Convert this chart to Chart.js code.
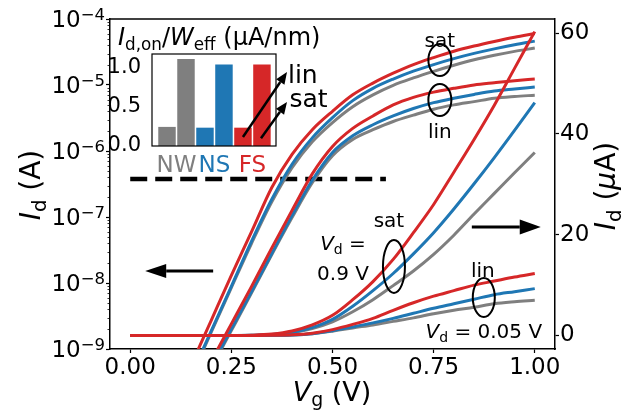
<!DOCTYPE html>
<html>
<head>
<meta charset="utf-8">
<script src="https://cdn.jsdelivr.net/npm/chart.js@4.4.1/dist/chart.umd.min.js"></script>
<style>
  html, body { margin: 0; padding: 0; background: #fff; }
  #wrap { position: relative; width: 634px; height: 410px; }
  #main { position: absolute; left: 0; top: 0; }
  #inset { position: absolute; left: 100px; top: 20px; }
</style>
</head>
<body>
<div id="wrap">
  <canvas id="main" width="634" height="410"></canvas>
  <canvas id="inset" width="240" height="160"></canvas>
</div>
<script>
// gate voltage (V)
const vg = [0.00, 0.05, 0.10, 0.15, 0.20, 0.25, 0.30, 0.35, 0.40, 0.45, 0.50,
            0.55, 0.60, 0.65, 0.70, 0.75, 0.80, 0.85, 0.90, 0.95, 1.00];

// drain current (A), Vd = 0.9 V (sat)
const idSatGray = [3.0e-12, 1.5e-11, 7.6e-11, 3.7e-10, 1.78e-9, 8.5e-9, 4.0e-8, 1.7e-7, 5.6e-7, 1.38e-6, 2.7e-6,
                   4.7e-6, 7.1e-6, 9.9e-6, 1.28e-5, 1.61e-5, 1.99e-5, 2.41e-5, 2.82e-5, 3.23e-5, 3.63e-5];
const idSatBlue = [3.2e-12, 1.6e-11, 7.9e-11, 3.9e-10, 1.86e-9, 8.9e-9, 4.3e-8, 1.86e-7, 6.3e-7, 1.58e-6, 3.2e-6,
                   5.8e-6, 8.9e-6, 1.23e-5, 1.62e-5, 2.04e-5, 2.51e-5, 3.01e-5, 3.53e-5, 4.07e-5, 4.62e-5];
const idSatRed  = [5.0e-12, 2.5e-11, 1.2e-10, 5.6e-10, 2.7e-9, 1.3e-8, 6.0e-8, 2.8e-7, 8.9e-7, 2.1e-6, 4.0e-6,
                   7.1e-6, 1.07e-5, 1.51e-5, 2.04e-5, 2.6e-5, 3.24e-5, 3.89e-5, 4.57e-5, 5.3e-5, 6.03e-5];

// drain current (A), Vd = 0.05 V (lin)
const idLinGray = [2.5e-12, 9.5e-12, 3.5e-11, 1.35e-10, 5.1e-10, 1.9e-9, 7.1e-9, 2.7e-8, 9.8e-8, 3.3e-7, 8.5e-7,
                   1.5e-6, 2.1e-6, 2.8e-6, 3.5e-6, 4.3e-6, 5.0e-6, 5.6e-6, 6.3e-6, 6.7e-6, 7.0e-6];
const idLinBlue = [2.6e-12, 1.0e-11, 3.7e-11, 1.4e-10, 5.4e-10, 2.0e-9, 7.4e-9, 2.8e-8, 1.05e-7, 3.6e-7, 9.5e-7,
                   1.7e-6, 2.5e-6, 3.4e-6, 4.4e-6, 5.4e-6, 6.3e-6, 7.2e-6, 8.1e-6, 8.7e-6, 9.3e-6];
const idLinRed  = [3.2e-12, 1.2e-11, 4.5e-11, 1.7e-10, 6.5e-10, 2.4e-9, 8.9e-9, 3.4e-8, 1.26e-7, 4.5e-7, 1.17e-6,
                   2.2e-6, 3.4e-6, 5.0e-6, 6.5e-6, 7.8e-6, 8.9e-6, 1.0e-5, 1.08e-5, 1.16e-5, 1.23e-5];

// dashed reference current
const refVg = [0.0, 0.632];
const refId = [3.75e-7, 3.75e-7];

// ticks
const xTicks = [0, 0.25, 0.5, 0.75, 1.0];
const logTicks = [1e-9, 1e-8, 1e-7, 1e-6, 1e-5, 1e-4];
const uaTicks = [0, 20, 40, 60];

// inset: Id,on / Weff (uA/nm)
const devices = ['NW', 'NS', 'FS'];
const ionLin = [0.245, 0.235, 0.235];
const ionSat = [1.115, 1.045, 1.045];
const insetTicks = [0.0, 0.5, 1.0];

const GRAY = '#7f7f7f', BLUE = '#1f77b4', RED = '#d62728';
const devColors = [GRAY, BLUE, RED];
const FONT = "'DejaVu Sans', sans-serif";

Chart.defaults.font.family = FONT;
Chart.defaults.color = '#000';

// draw mathtext-like label: parts = [{t, it, sub}]
function richText(ctx, parts, size, x, y, align, rot) {
    const subSize = size * 0.7, drop = size * 0.2;
    const fontOf = p => (p.it ? 'italic ' : '') + (p.sub ? subSize : size) + 'px ' + FONT;
    let w = 0;
    parts.forEach(p => { ctx.font = fontOf(p); p.w = ctx.measureText(p.t).width; w += p.w; });
    ctx.save();
    ctx.translate(x, y);
    if (rot) ctx.rotate(rot);
    ctx.textAlign = 'left';
    ctx.textBaseline = 'alphabetic';
    ctx.fillStyle = '#000';
    let cx = align === 'center' ? -w / 2 : (align === 'right' ? -w : 0);
    parts.forEach(p => {
        ctx.font = fontOf(p);
        if (p.color) ctx.fillStyle = p.color;
        ctx.fillText(p.t, cx, p.sub ? drop : 0);
        cx += p.w;
    });
    ctx.restore();
}

function arrow(ctx, x1, y1, x2, y2, lw, hl, hw) {
    const a = Math.atan2(y2 - y1, x2 - x1);
    const bx = x2 - hl * Math.cos(a), by = y2 - hl * Math.sin(a);
    ctx.save();
    ctx.strokeStyle = '#000';
    ctx.fillStyle = '#000';
    ctx.lineWidth = lw;
    ctx.beginPath();
    ctx.moveTo(x1, y1);
    ctx.lineTo(bx, by);
    ctx.stroke();
    ctx.beginPath();
    ctx.moveTo(x2, y2);
    ctx.lineTo(bx + hw * Math.sin(a), by - hw * Math.cos(a));
    ctx.lineTo(bx - hw * Math.sin(a), by + hw * Math.cos(a));
    ctx.closePath();
    ctx.fill();
    ctx.restore();
}

// ---------- main chart ----------
const curves = [
    { id: idSatGray, color: GRAY, order: 3 },
    { id: idSatBlue, color: BLUE, order: 2 },
    { id: idSatRed, color: RED, order: 1 },
    { id: idLinGray, color: GRAY, order: 3 },
    { id: idLinBlue, color: BLUE, order: 2 },
    { id: idLinRed, color: RED, order: 1 }
];

const datasets = [];
curves.forEach(c => {
    const common = {
        borderColor: c.color, borderWidth: 3, pointRadius: 0, fill: false,
        cubicInterpolationMode: 'monotone', clip: 0, order: c.order
    };
    // log axis (A)
    datasets.push(Object.assign({ yAxisID: 'yL', data: vg.map((v, i) => ({ x: v, y: c.id[i] })) }, common));
    // linear axis (uA)
    datasets.push(Object.assign({ yAxisID: 'yR', data: vg.map((v, i) => ({ x: v, y: c.id[i] * 1e6 })) }, common));
});
datasets.push({
    yAxisID: 'yL', data: refVg.map((v, i) => ({ x: v, y: refId[i] })),
    borderColor: '#000', borderWidth: 4.5, borderDash: [17, 8], pointRadius: 0, order: 4, clip: 0
});

const mainDecor = {
    id: 'mainDecor',
    afterDraw(chart) {
        const ctx = chart.ctx, a = chart.chartArea;
        const xs = chart.scales.x, yl = chart.scales.yL, yr = chart.scales.yR;
        const px = v => xs.getPixelForValue(v), py = v => yr.getPixelForValue(v);

        // frame top
        ctx.save();
        ctx.strokeStyle = '#000';
        ctx.lineWidth = 1.5;
        ctx.beginPath();
        ctx.moveTo(a.left, a.top);
        ctx.lineTo(a.right, a.top);
        ctx.stroke();

        // log minor ticks
        ctx.lineWidth = 0.8;
        for (let e = -9; e < -4; e++) {
            for (let m = 2; m <= 9; m++) {
                const y = Math.round(yl.getPixelForValue(m * Math.pow(10, e))) + 0.5;
                ctx.beginPath();
                ctx.moveTo(a.left - 2.5, y);
                ctx.lineTo(a.left, y);
                ctx.stroke();
            }
        }
        ctx.restore();

        // log tick labels 10^n
        logTicks.forEach(v => {
            const y = yl.getPixelForValue(v);
            const exp = '\u2212' + Math.round(-Math.log10(v));
            ctx.save();
            ctx.fillStyle = '#000';
            ctx.textBaseline = 'alphabetic';
            ctx.textAlign = 'right';
            ctx.font = '16.5px ' + FONT;
            const ew = ctx.measureText(exp).width;
            ctx.fillText(exp, 105, y + 0.5);
            ctx.font = '23px ' + FONT;
            ctx.fillText('10', 105 - ew, y + 7.7);
            ctx.restore();
        });

        // axis titles
        richText(ctx, [{ t: 'V', it: 1 }, { t: 'g', sub: 1 }, { t: ' (V)' }], 27, 332, 401, 'center');
        richText(ctx, [{ t: 'I', it: 1 }, { t: 'd', sub: 1 }, { t: ' (A)' }], 28, 40, 185, 'center', -Math.PI / 2);
        richText(ctx, [{ t: 'I', it: 1 }, { t: 'd', sub: 1 }, { t: ' (' }, { t: '\u03bc', it: 1 }, { t: 'A)' }], 28, 615, 186, 'center', -Math.PI / 2);

        // ellipses
        ctx.save();
        ctx.strokeStyle = '#000';
        ctx.lineWidth = 2;
        [[0.7654, 54.66, 11.5, 16], [0.7654, 46.73, 11.5, 16], [0.6519, 13.69, 11, 26.5], [0.874, 7.54, 11, 19.5]]
            .forEach(e => {
                ctx.beginPath();
                ctx.ellipse(px(e[0]), py(e[1]), e[2], e[3], 0, 0, Math.PI * 2);
                ctx.stroke();
            });
        ctx.restore();

        // annotation text
        richText(ctx, [{ t: 'sat' }], 20, px(0.7654), py(57.24), 'center');
        richText(ctx, [{ t: 'lin' }], 20, px(0.7654), py(39.19), 'center');
        richText(ctx, [{ t: 'sat' }], 20, px(0.6395), py(21.53), 'center');
        richText(ctx, [{ t: 'V', it: 1 }, { t: 'd', sub: 1 }, { t: ' =' }], 20, px(0.5259), py(16.96), 'center');
        richText(ctx, [{ t: '0.9 V' }], 20, px(0.5259), py(11.01), 'center');
        richText(ctx, [{ t: 'lin' }], 20, px(0.8716), py(11.6), 'center');
        richText(ctx, [{ t: 'V', it: 1 }, { t: 'd', sub: 1 }, { t: ' = 0.05 V' }], 20, px(0.874), py(-0.5), 'center');

        // axis arrows
        arrow(ctx, px(0.205), py(12.8), px(0.037), py(12.8), 3, 21, 7);
        arrow(ctx, px(0.8444), py(21.53), px(1.0148), py(21.53), 3, 21, 7.5);
    }
};

new Chart(document.getElementById('main'), {
    type: 'line',
    data: { datasets: datasets },
    options: {
        responsive: false,
        animation: false,
        layout: { padding: { top: 19, left: 0, right: 0, bottom: 0 } },
        plugins: { legend: { display: false }, tooltip: { enabled: false } },
        scales: {
            x: {
                type: 'linear', position: 'bottom', min: -0.05, max: 1.05,
                afterBuildTicks: s => { s.ticks = xTicks.map(v => ({ value: v })); },
                afterFit: s => { s.height = 61; },
                ticks: { font: { size: 23 }, color: '#000', padding: 1, maxRotation: 0, autoSkip: false,
                         callback: v => Number(v).toFixed(2) },
                grid: { display: true, drawOnChartArea: false, drawTicks: true, tickLength: 4, color: '#000', tickWidth: 1.2 },
                border: { display: true, color: '#000', width: 1.5 }
            },
            yL: {
                type: 'logarithmic', position: 'left', min: 1e-9, max: 1e-4,
                afterBuildTicks: s => { s.ticks = logTicks.map(v => ({ value: v, major: true })); },
                afterFit: s => { s.width = 110; },
                ticks: { display: false },
                grid: { display: true, drawOnChartArea: false, drawTicks: true, tickLength: 4, color: '#000', tickWidth: 1.2 },
                border: { display: true, color: '#000', width: 1.5 }
            },
            yR: {
                type: 'linear', position: 'right', min: -2.68, max: 62.8,
                afterBuildTicks: s => { s.ticks = uaTicks.map(v => ({ value: v })); },
                afterFit: s => { s.width = 79; },
                ticks: { font: { size: 23 }, color: '#000', padding: 1 },
                grid: { display: true, drawOnChartArea: false, drawTicks: true, tickLength: 4, color: '#000', tickWidth: 1.2 },
                border: { display: true, color: '#000', width: 1.5 }
            }
        }
    },
    plugins: [mainDecor]
});

// ---------- inset bar chart ----------
const barPts = [], barColors = [];
devices.forEach((d, i) => {
    barPts.push({ x: 2 * i, y: ionLin[i] });
    barPts.push({ x: 2 * i + 1, y: ionSat[i] });
    barColors.push(devColors[i], devColors[i]);
});

const insetDecor = {
    id: 'insetDecor',
    afterDraw(chart) {
        const ctx = chart.ctx, a = chart.chartArea;
        const xs = chart.scales.x, ys = chart.scales.y;
        const px = v => xs.getPixelForValue(v), py = v => ys.getPixelForValue(v);

        ctx.save();
        ctx.strokeStyle = '#000';
        ctx.lineWidth = 1.2;
        ctx.strokeRect(a.left, a.top, a.right - a.left, a.bottom - a.top);
        ctx.restore();

        // device labels
        devices.forEach((d, i) => {
            richText(ctx, [{ t: d, color: devColors[i] }], 23, px(2 * i + 0.5), a.bottom + 26, 'center');
        });

        // title
        richText(ctx, [{ t: 'I', it: 1 }, { t: 'd,on', sub: 1 }, { t: '/' }, { t: 'W', it: 1 },
                       { t: 'eff', sub: 1 }, { t: ' (\u00b5A/nm)' }], 24, 18, 25, 'left');

        // lin / sat arrows
        arrow(ctx, px(4.0), py(0.115), px(6.32), py(0.949), 2.5, 12, 5);
        arrow(ctx, px(4.95), py(0.10), px(6.32), py(0.564), 2.5, 12, 5);
        richText(ctx, [{ t: 'lin' }], 25, px(6.37), py(0.81), 'left');
        richText(ctx, [{ t: 'sat' }], 25, px(6.45), py(0.50), 'left');
    }
};

new Chart(document.getElementById('inset'), {
    type: 'bar',
    data: { datasets: [{ data: barPts, backgroundColor: barColors, borderWidth: 0,
                         barPercentage: 0.92, categoryPercentage: 1.0 }] },
    options: {
        responsive: false,
        animation: false,
        layout: { padding: { top: 34, right: 64, left: 0, bottom: 0 } },
        plugins: { legend: { display: false }, tooltip: { enabled: false } },
        scales: {
            x: {
                type: 'linear', min: -0.79, max: 5.74, offset: false,
                afterFit: s => { s.height = 34; },
                ticks: { display: false },
                grid: { display: false, offset: false },
                border: { display: false }
            },
            y: {
                min: 0, max: 1.18,
                afterBuildTicks: s => { s.ticks = insetTicks.map(v => ({ value: v })); },
                afterFit: s => { s.width = 52; },
                ticks: { font: { size: 21 }, color: '#000', padding: 3, callback: v => Number(v).toFixed(1) },
                grid: { display: false },
                border: { display: false }
            }
        }
    },
    plugins: [insetDecor]
});
</script>
</body>
</html>
